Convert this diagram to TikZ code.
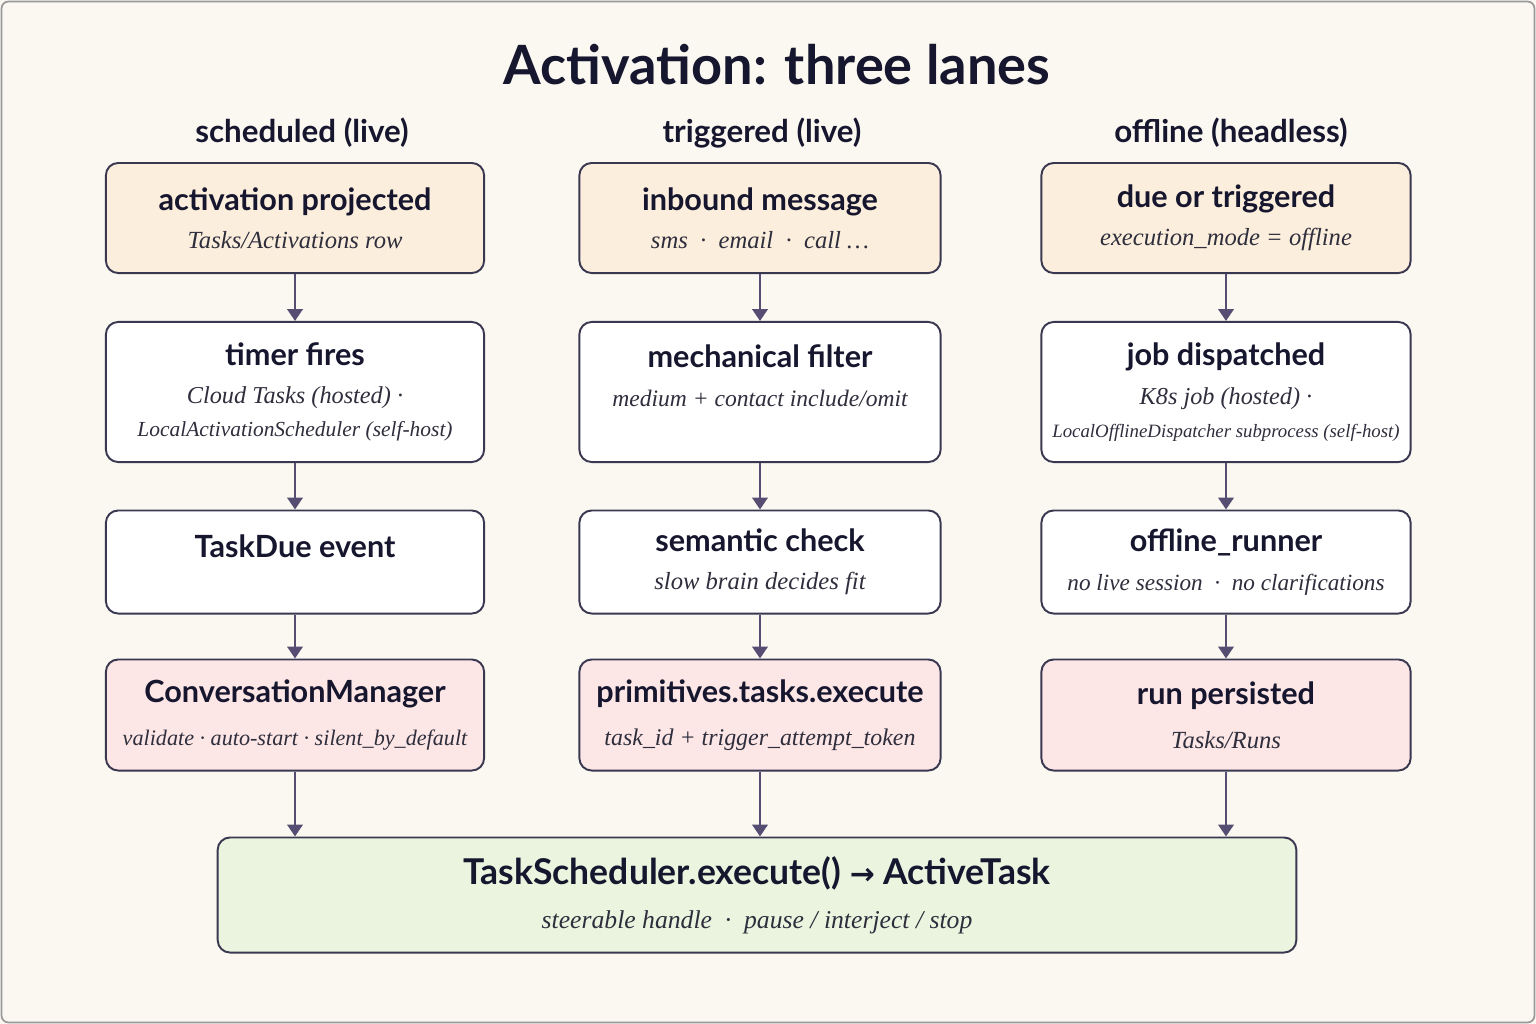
\documentclass[tikz,border=0pt]{standalone}
\usepackage{fontspec}
\setmainfont{Liberation Serif}
\setsansfont{Lato}
\newfontfamily\arrowfont{DejaVu Sans}
\usetikzlibrary{arrows.meta}

\definecolor{pagebg}{HTML}{FBF8F1}
\definecolor{framegray}{HTML}{9A9A9A}
\definecolor{inkdark}{HTML}{16162E}
\definecolor{notegray}{HTML}{2E2E3C}
\definecolor{edgeink}{HTML}{3A3850}
\definecolor{flowink}{HTML}{564E72}
\definecolor{sourcefill}{HTML}{FCEEDC}
\definecolor{stepfill}{HTML}{FFFFFF}
\definecolor{handofffill}{HTML}{FCE6E6}
\definecolor{runfill}{HTML}{EAF4DF}

\newcommand{\boxtitle}[1]{{\sffamily\bfseries\fontsize{8.7}{9}\selectfont\color{inkdark}#1}}
\newcommand{\boxnote}[2][7]{{\itshape\fontsize{#1}{9}\selectfont\color{notegray}#2}}

\begin{document}
\begin{tikzpicture}[x=0.01cm,y=-0.01cm,
    stage/.style={draw=edgeink, line width=0.55pt, rounded corners=3.5pt,
                  align=center, inner sep=2pt, font=\fontsize{7}{9.4}\selectfont},
    flow/.style={draw=flowink, line width=0.7pt,
                 -{Triangle[width=4.4pt,length=3.4pt]}},
    lanehead/.style={font=\sffamily\bfseries\fontsize{8.9}{10}\selectfont, text=inkdark}]

% page
\useasboundingbox (0,0) rectangle (1536,1024);
\fill[pagebg] (0,0) rectangle (1536,1024);
\draw[framegray, line width=0.5pt, rounded corners=2pt] (1.5,1.5) rectangle (1534.5,1022.5);

% ----------------------------------------------------------
% title and lane headers
% ----------------------------------------------------------
\node[font=\sffamily\bfseries\fontsize{15.4}{18}\selectfont, text=inkdark] (title) at (777,65) {Activation: three lanes};

\node[lanehead] (lane1) at (302,133) {scheduled (live)};
\node[lanehead] (lane2) at (762,133) {triggered (live)};
\node[lanehead] (lane3) at (1231,133) {offline (headless)};

% ----------------------------------------------------------
% scheduled lane
% ----------------------------------------------------------
\node[stage, fill=sourcefill, minimum width=3.78cm, minimum height=1.10cm] (sched1) at (295,218)
    {\boxtitle{activation projected}\\[1.5pt]\boxnote{Tasks/Activations row}};
\node[stage, fill=stepfill, minimum width=3.78cm, minimum height=1.40cm] (sched2) at (295,392)
    {\boxtitle{timer fires}\\[1.5pt]\boxnote[6.9]{Cloud Tasks (hosted) ·}\\\boxnote[6.1]{LocalActivationScheduler (self-host)}};
\node[stage, fill=stepfill, minimum width=3.78cm, minimum height=1.03cm] (sched3) at (295,562)
    {\boxtitle{TaskDue event}\\[-0.5pt]\mbox{}};
\node[stage, fill=handofffill, minimum width=3.78cm, minimum height=1.11cm] (sched4) at (295,715)
    {\boxtitle{ConversationManager}\\[3pt]\boxnote[6.3]{validate · auto-start · silent\_by\_default}};

% ----------------------------------------------------------
% triggered lane
% ----------------------------------------------------------
\node[stage, fill=sourcefill, minimum width=3.61cm, minimum height=1.10cm] (trig1) at (760,218)
    {\boxtitle{inbound message}\\[1.5pt]\boxnote{sms \ · \ email \ · \ call …}};
\node[stage, fill=stepfill, minimum width=3.61cm, minimum height=1.40cm] (trig2) at (760,392)
    {\boxtitle{mechanical filter}\\[1.5pt]\boxnote[6.7]{medium + contact include/omit}\\\mbox{}};
\node[stage, fill=stepfill, minimum width=3.61cm, minimum height=1.03cm] (trig3) at (760,562)
    {\boxtitle{semantic check}\\[1.5pt]\boxnote{slow brain decides fit}};
\node[stage, fill=handofffill, minimum width=3.61cm, minimum height=1.11cm] (trig4) at (760,715)
    {\boxtitle{primitives.tasks.execute}\\[3pt]\boxnote[6.8]{task\_id + trigger\_attempt\_token}};

% ----------------------------------------------------------
% offline lane
% ----------------------------------------------------------
\node[stage, fill=sourcefill, minimum width=3.69cm, minimum height=1.10cm] (off1) at (1226,218)
    {\boxtitle{due or triggered}\\[1.5pt]\boxnote{execution\_mode = offline}};
\node[stage, fill=stepfill, minimum width=3.69cm, minimum height=1.40cm] (off2) at (1226,392)
    {\boxtitle{job dispatched}\\[1.5pt]\boxnote[6.9]{K8s job (hosted) ·}\\\boxnote[5.35]{LocalOfflineDispatcher subprocess (self-host)}};
\node[stage, fill=stepfill, minimum width=3.69cm, minimum height=1.03cm] (off3) at (1226,562)
    {\boxtitle{offline\_runner}\\[1.5pt]\boxnote[6.6]{no live session \ · \ no clarifications}};
\node[stage, fill=handofffill, minimum width=3.69cm, minimum height=1.11cm] (off4) at (1226,715)
    {\boxtitle{run persisted}\\[3pt]\boxnote{Tasks/Runs}};

% ----------------------------------------------------------
% shared sink
% ----------------------------------------------------------
\node[stage, fill=runfill, minimum width=10.78cm, minimum height=1.15cm] (execute) at (757,895)
    {{\sffamily\bfseries\fontsize{10.1}{9}\selectfont\color{inkdark}TaskScheduler.execute() {\arrowfont\fontsize{8.5}{9}\selectfont →} ActiveTask}\\[3pt]%
     {\itshape\fontsize{7.3}{9}\selectfont\color{notegray}steerable handle \ · \ pause / interject / stop}};

% connectors down each lane
\foreach \a/\b in {sched1/sched2, sched2/sched3, sched3/sched4,
                   trig1/trig2, trig2/trig3, trig3/trig4,
                   off1/off2, off2/off3, off3/off4} {
    \draw[flow] (\a) -- (\b);
}

% into the shared sink
\foreach \a in {sched4, trig4, off4} {
    \draw[flow] (\a.south) -- (\a.south |- execute.north);
}

\end{tikzpicture}
\end{document}
